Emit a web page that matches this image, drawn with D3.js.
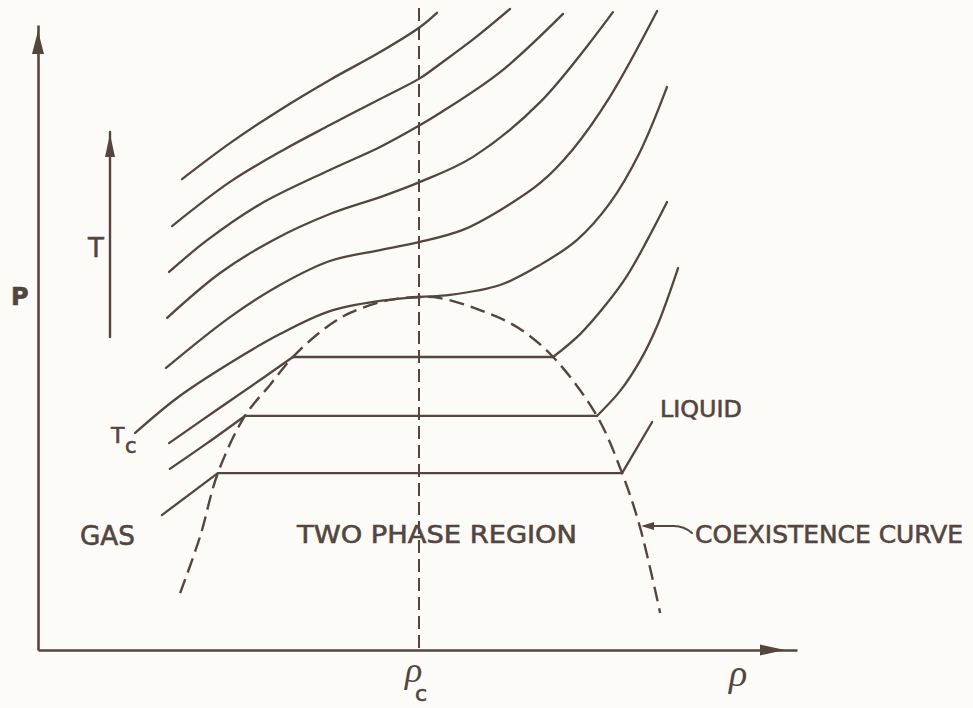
<!DOCTYPE html>
<html><head><meta charset="utf-8">
<script src="https://cdn.jsdelivr.net/npm/d3@7"></script>
<style>html,body{margin:0;padding:0;background:#fcfbf8;} svg{display:block}</style>
</head><body>
<svg id="c" width="973" height="708"></svg>
<script>
// ---- data: reduced density rho/rho_c and reduced pressure P/P_c ----
const rhoC = 1.0;
const coexistence = [[0.373,0.161],[0.425,0.320],[0.472,0.501],[0.543,0.663],[0.609,0.751],[0.669,0.830],[0.748,0.907],[0.819,0.955],[0.924,0.992],[1.0,1.0],[1.055,0.997],[1.160,0.963],[1.257,0.915],[1.352,0.830],[1.467,0.663],[1.533,0.501],[1.580,0.348],[1.633,0.105]];
// supercritical isotherms (highest T first)
const iso1 = [[0.378,1.334],[0.504,1.436],[0.635,1.530],[0.766,1.615],[0.898,1.694],[1.003,1.765],[1.047,1.805]];
const iso2 = [[0.352,1.201],[0.504,1.326],[0.643,1.416],[0.766,1.487],[0.898,1.561],[1.003,1.620],[1.055,1.660],[1.147,1.734],[1.239,1.816]];
const iso3 = [[0.344,1.071],[0.444,1.161],[0.583,1.263],[0.766,1.360],[0.898,1.425],[1.003,1.487],[1.055,1.521],[1.213,1.637],[1.378,1.802]];
const iso4 = [[0.339,0.941],[0.478,1.068],[0.617,1.161],[0.766,1.235],[0.898,1.283],[1.003,1.326],[1.142,1.397],[1.318,1.552],[1.509,1.807]];
const iso5 = [[0.336,0.799],[0.504,0.943],[0.635,1.034],[0.766,1.102],[0.898,1.133],[1.003,1.156],[1.115,1.190],[1.213,1.246],[1.318,1.323],[1.402,1.416],[1.501,1.567],[1.625,1.810]];
// critical isotherm T_c
const isoTc = [[0.255,0.615],[0.365,0.714],[0.504,0.813],[0.635,0.895],[0.766,0.960],[0.898,0.989],[1.0,1.0],[1.081,1.006],[1.213,1.034],[1.318,1.091],[1.415,1.162],[1.501,1.266],[1.580,1.411],[1.651,1.595]];
// subcritical isotherms: gas branch, liquid branch (joined by a tie line)
const sub1Gas = [[0.344,0.586],[0.465,0.677],[0.583,0.765],[0.669,0.830]];
const sub1Liq = [[1.352,0.830],[1.423,0.895],[1.488,0.975],[1.546,1.060],[1.598,1.159],[1.651,1.269]];
const sub2Gas = [[0.346,0.513],[0.444,0.586],[0.543,0.663]];
const sub2Liq = [[1.467,0.663],[1.528,0.734],[1.580,0.819],[1.625,0.918],[1.680,1.082]];
const sub3Gas = [[0.325,0.382],[0.472,0.501]];
const sub3Liq = [[1.533,0.501],[1.612,0.646]];
const labels = ["GAS","TWO PHASE REGION","LIQUID","COEXISTENCE CURVE","T","P"];

// ---- drawing ----
const ink = "#55453f";
const svg = d3.select("#c");
const x = d3.scaleLinear().domain([0,2]).range([38,800]);
const y = d3.scaleLinear().domain([0,1]).range([650,297]);
const line = d3.line().x(d=>x(d[0])).y(d=>y(d[1])).curve(d3.curveCatmullRom.alpha(0.5));
const g = svg.append("g").attr("fill","none").attr("stroke",ink).attr("stroke-linecap","round");

// axes
const xa = d3.scaleLinear().domain([0, x.invert(797)]).range([38,797]);
const ya = d3.scaleLinear().domain([0, y.invert(25)]).range([650,25]);
const gx = svg.append("g").attr("transform",`translate(0,${y(0)})`).call(d3.axisBottom(xa).tickValues([]).tickSizeOuter(0));
const gy = svg.append("g").attr("transform",`translate(${x(0)},0)`).call(d3.axisLeft(ya).tickValues([]).tickSizeOuter(0));
[gx,gy].forEach(a=>a.select(".domain").attr("stroke",ink).attr("stroke-width",2.6));
// arrowheads
svg.append("path").attr("fill",ink)
  .attr("d",`M${xa(xa.domain()[1])-12},${y(0)} l-25,-5.5 l0,11 z`);
svg.append("path").attr("fill",ink)
  .attr("d",`M${x(0)},${ya(ya.domain()[1])+6} l-6,23 l12,0 z`);

// rho_c dashed line
g.append("line").attr("x1",x(rhoC)).attr("x2",x(rhoC)).attr("y1",8).attr("y2",y(0))
  .attr("stroke-width",2).attr("stroke-dasharray","13,6").attr("stroke-linecap","butt");

// coexistence curve
g.append("path").attr("d",line(coexistence)).attr("stroke-width",2.4)
  .attr("stroke-dasharray","15,7").attr("stroke-linecap","butt");

// isotherms
[iso1,iso2,iso3,iso4,iso5,isoTc].forEach(d=>g.append("path").attr("d",line(d)).attr("stroke-width",2.3));
[[sub1Gas,sub1Liq],[sub2Gas,sub2Liq],[sub3Gas,sub3Liq]].forEach(([ga,li])=>{
  g.append("path").attr("d",line(ga)).attr("stroke-width",2.3);
  g.append("path").attr("d",line(li)).attr("stroke-width",2.3);
  const a=ga[ga.length-1], b=li[0];
  g.append("line").attr("x1",x(a[0])).attr("y1",y(a[1])).attr("x2",x(b[0])).attr("y2",y(b[1])).attr("stroke-width",2.3);
});

// T arrow
g.append("line").attr("x1",110).attr("x2",110).attr("y1",337).attr("y2",132).attr("stroke-width",2.4);
svg.append("path").attr("fill",ink).attr("d","M110,134 l-5,23 l10,0 z");

// coexistence pointer
g.append("path").attr("d","M692,533 Q684,526 674,526 L652,526").attr("stroke-width",2);
svg.append("path").attr("fill",ink).attr("d","M641,526 l13,-4 l0,8 z");

// text
const font = "'DejaVu Sans', sans-serif";
function txt(s,xp,yp,size,len,extra){
  const t = svg.append("text").attr("x",xp).attr("y",yp).attr("fill",ink)
    .attr("stroke",ink).attr("stroke-width",0.6)
    .attr("font-family",font).attr("font-size",size).text(s);
  if(len) t.attr("textLength",len).attr("lengthAdjust","spacingAndGlyphs");
  if(extra) extra(t);
  return t;
}
txt(labels[0],80,545,27,55);
txt(labels[1],297,543,25,280);
txt(labels[2],660,417,23,82);
txt(labels[3],695,543,24,268);
txt(labels[4],88,257,26);
txt(labels[5],11,305,24,null,t=>t.attr("font-weight","bold"));
txt("T",111,443,22);
txt("c",125,453,21);
// rho labels
svg.append("text").attr("x",405).attr("y",682).attr("fill",ink)
  .attr("font-family","'Liberation Serif', serif").attr("font-style","italic").attr("font-size",36).text("ρ");
txt("c",415,701,22);
svg.append("text").attr("x",729).attr("y",686).attr("fill",ink)
  .attr("font-family","'Liberation Serif', serif").attr("font-style","italic").attr("font-size",38).text("ρ");
</script>
</body></html>
